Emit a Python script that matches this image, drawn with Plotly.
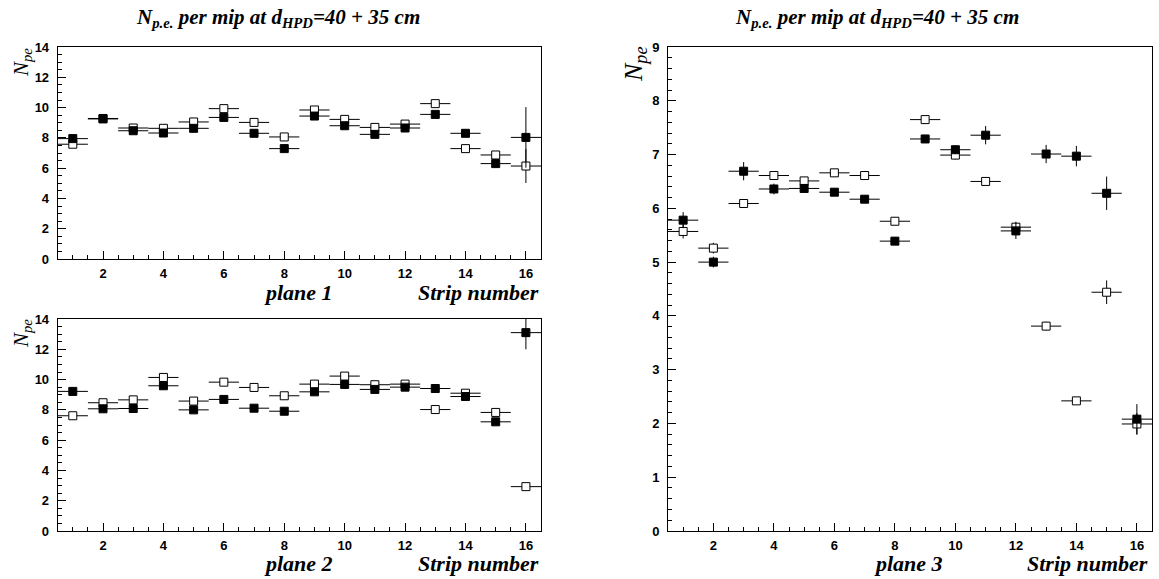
import plotly.graph_objects as go

W, H = 1159, 579

strips = list(range(1, 17))

# plane 1 (top-left)
p1_open = [7.58, 9.28, 8.65, 8.63, 9.05, 9.93, 9.02, 8.06, 9.84, 9.22, 8.69, 8.91, 10.26, 7.29, 6.87, 6.14]
p1_open_err = [0.15, 0.15, 0.15, 0.15, 0.15, 0.15, 0.15, 0.15, 0.15, 0.15, 0.15, 0.15, 0.15, 0.15, 0.15, 1.12]
p1_fill = [7.95, 9.25, 8.47, 8.32, 8.63, 9.35, 8.30, 7.29, 9.44, 8.80, 8.23, 8.65, 9.55, 8.30, 6.30, 8.03]
p1_fill_err = [0.15, 0.15, 0.15, 0.15, 0.15, 0.15, 0.15, 0.15, 0.15, 0.15, 0.15, 0.15, 0.15, 0.2, 0.22, 2.0]

# plane 2 (bottom-left)
p2_open = [7.61, 8.47, 8.66, 10.14, 8.58, 9.83, 9.48, 8.93, 9.70, 10.23, 9.66, 9.70, 8.02, 9.10, 7.83, 2.93]
p2_open_err = [0.15] * 15 + [0.12]
p2_fill = [9.22, 8.07, 8.09, 9.59, 8.00, 8.69, 8.11, 7.91, 9.19, 9.68, 9.35, 9.50, 9.41, 8.88, 7.21, 13.10]
p2_fill_err = [0.15] * 14 + [0.2, 1.1]

# plane 3 (right)
p3_open = [5.57, 5.26, 6.09, 6.61, 6.51, 6.66, 6.61, 5.76, 7.65, 6.99, 6.50, 5.65, 3.81, 2.42, 4.44, 1.99]
p3_open_err = [0.13, 0.1, 0.08, 0.07, 0.07, 0.07, 0.07, 0.07, 0.07, 0.08, 0.07, 0.1, 0.08, 0.07, 0.22, 0.2]
p3_fill = [5.78, 5.00, 6.69, 6.36, 6.37, 6.30, 6.17, 5.39, 7.29, 7.09, 7.36, 5.58, 7.01, 6.97, 6.28, 2.08]
p3_fill_err = [0.15, 0.1, 0.17, 0.1, 0.07, 0.07, 0.07, 0.07, 0.07, 0.08, 0.17, 0.15, 0.17, 0.19, 0.31, 0.28]

x_ticks = [2, 4, 6, 8, 10, 12, 14, 16]
title_text = "<b><i>N<sub>p.e.</sub> per mip at d<sub>HPD</sub>=40 + 35 cm</i></b>"


def px_x(p):
    return p / W


def px_y(p):
    return 1 - p / H


fig = go.Figure()


def add_pair(xa, ya, yo, yoe, yf, yfe):
    common = dict(
        x=strips, mode="markers", xaxis=xa, yaxis=ya, showlegend=False,
        error_x=dict(type="constant", value=0.5, thickness=1, width=0, color="black"),
    )
    fig.add_trace(go.Scatter(
        y=yo, **common,
        error_y=dict(type="data", array=yoe, thickness=1, width=0, color="black"),
        marker=dict(symbol="square", size=8, color="white", line=dict(color="black", width=1)),
    ))
    fig.add_trace(go.Scatter(
        y=yf, **common,
        error_y=dict(type="data", array=yfe, thickness=1, width=0, color="black"),
        marker=dict(symbol="square", size=8, color="black", line=dict(color="black", width=1)),
    ))


add_pair("x", "y", p1_open, p1_open_err, p1_fill, p1_fill_err)
add_pair("x2", "y2", p2_open, p2_open_err, p2_fill, p2_fill_err)
add_pair("x3", "y3", p3_open, p3_open_err, p3_fill, p3_fill_err)

tickfont = dict(family="Liberation Sans", size=13, color="black", weight="bold")


def xaxis(dom, anchor):
    return dict(
        domain=dom, anchor=anchor, range=[0.5, 16.5], tickvals=x_ticks,
        ticks="inside", ticklen=8, tickcolor="black", tickwidth=1,
        minor=dict(dtick=0.5, tick0=0, ticks="inside", ticklen=4, tickcolor="black", tickwidth=1),
        showline=True, linecolor="black", linewidth=1, mirror=True,
        showgrid=False, zeroline=False, tickfont=tickfont, automargin=False,
        ticklabelstandoff=2,
    )


def yaxis(dom, anchor, rng, dtick, mdtick):
    return dict(
        domain=dom, anchor=anchor, range=rng, dtick=dtick, tick0=0,
        ticks="inside", ticklen=8, tickcolor="black", tickwidth=1,
        minor=dict(dtick=mdtick, tick0=0, ticks="inside", ticklen=4, tickcolor="black", tickwidth=1),
        showline=True, linecolor="black", linewidth=1, mirror=True,
        showgrid=False, zeroline=False, tickfont=tickfont, automargin=False,
        ticklabelstandoff=5,
    )


xl = [px_x(57.7), px_x(541)]
xr = [px_x(668), px_x(1152)]
y_top = [px_y(259), px_y(47)]
y_bot = [px_y(531), px_y(319)]
y_right = [px_y(531), px_y(47)]

fig.update_layout(
    width=W, height=H, template="none",
    margin=dict(l=0, r=0, t=0, b=0),
    paper_bgcolor="white", plot_bgcolor="white",
    xaxis=xaxis(xl, "y"), yaxis=yaxis(y_top, "x", [0, 14], 2, 0.5),
    xaxis2=xaxis(xl, "y2"), yaxis2=yaxis(y_bot, "x2", [0, 14], 2, 0.5),
    xaxis3=xaxis(xr, "y3"), yaxis3=yaxis(y_right, "x3", [0, 9], 1, 0.2),
)

serif = "Liberation Serif"
ann = []


def add_text(text, x, y, size, xanchor="center", angle=0):
    ann.append(dict(
        text=text, x=px_x(x), y=px_y(y), xref="paper", yref="paper",
        xanchor=xanchor, yanchor="middle", showarrow=False, textangle=angle,
        font=dict(family=serif, size=size, color="black"),
    ))


add_text(title_text, 278, 18, 21)
add_text(title_text, 877, 18, 21)
add_text("<b><i>plane 1</i></b>", 298, 292, 22)
add_text("<b><i>Strip number</i></b>", 541, 292, 22, xanchor="right")
add_text("<b><i>plane 2</i></b>", 298, 563, 22)
add_text("<b><i>Strip number</i></b>", 541, 563, 22, xanchor="right")
add_text("<b><i>plane 3</i></b>", 908, 563, 22)
add_text("<b><i>Strip number</i></b>", 1150, 563, 22, xanchor="right")
add_text("<i>N<sub>pe</sub></i>", 22, 63, 21, angle=-90)
add_text("<i>N<sub>pe</sub></i>", 22, 334, 21, angle=-90)
add_text("<i>N<sub>pe</sub></i>", 635, 64, 26, angle=-90)

fig.update_layout(annotations=ann)

fig.write_html(
    "out.html",
    config={"displayModeBar": False},
    post_script="document.body.style.margin='0';document.body.style.overflow='hidden';",
)
